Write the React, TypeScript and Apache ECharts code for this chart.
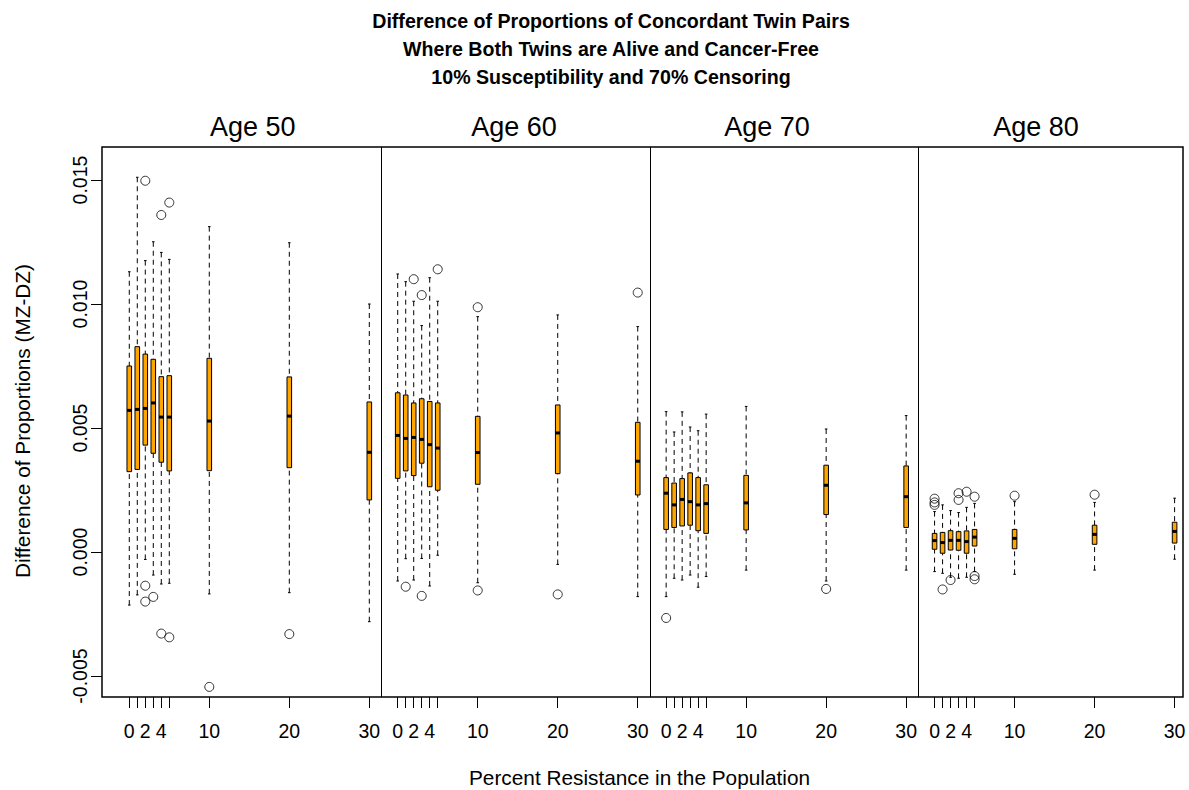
import React, { useEffect, useRef } from "react";
import * as echarts from "echarts";

// ---------- data ----------
const POSITIONS = [0, 1, 2, 3, 4, 5, 10, 20, 30];
const TICK_LABELS = [0, 2, 4, 10, 20, 30];
const AGES = ["Age 50", "Age 60", "Age 70", "Age 80"];
const Y_TICKS = [-0.005, 0, 0.005, 0.01, 0.015];
const TITLE_LINES = [
  "Difference of Proportions of Concordant Twin Pairs",
  "Where Both Twins are Alive and Cancer-Free",
  "10% Susceptibility and 70% Censoring",
];
const X_TITLE = "Percent Resistance in the Population";
const Y_TITLE = "Difference of Proportions (MZ-DZ)";

// [lower whisker, Q1, median, Q3, upper whisker] for each position
const AGE50_STATS = [
  [-0.00214, 0.00324, 0.00571, 0.0075, 0.0113],
  [-0.00173, 0.00333, 0.00575, 0.00828, 0.01511],
  [-0.0003, 0.00431, 0.00579, 0.00798, 0.01175],
  [-0.00093, 0.00398, 0.00601, 0.00777, 0.01251],
  [-0.00129, 0.00362, 0.00544, 0.00707, 0.01208],
  [-0.00126, 0.00327, 0.00544, 0.00711, 0.0118],
  [-0.00169, 0.00328, 0.00528, 0.00781, 0.01312],
  [-0.00164, 0.0034, 0.00548, 0.00706, 0.01247],
  [-0.00281, 0.0021, 0.00402, 0.00605, 0.01],
];
const AGE60_STATS = [
  [-0.00117, 0.00297, 0.0047, 0.00642, 0.01121],
  [-0.00027, 0.00327, 0.00458, 0.00633, 0.0109],
  [-0.00113, 0.00308, 0.00462, 0.00601, 0.01011],
  [-0.00026, 0.00358, 0.00454, 0.00618, 0.00913],
  [-0.00137, 0.00263, 0.00433, 0.00607, 0.01106],
  [-0.00013, 0.00249, 0.00419, 0.00601, 0.01011],
  [-0.00124, 0.00273, 0.00401, 0.00547, 0.00949],
  [-0.0005, 0.00316, 0.0048, 0.00593, 0.00956],
  [-0.0018, 0.0023, 0.00366, 0.00523, 0.00909],
];
const AGE70_STATS = [
  [-0.0018, 0.00091, 0.00237, 0.003, 0.00566],
  [-0.00106, 0.00099, 0.0019, 0.00278, 0.00484],
  [-0.00113, 0.00105, 0.00212, 0.00296, 0.00565],
  [-0.00093, 0.00108, 0.00203, 0.00319, 0.00504],
  [-0.00142, 0.00086, 0.0019, 0.003, 0.00489],
  [-0.00099, 0.00075, 0.00195, 0.00271, 0.00556],
  [-0.00073, 0.00089, 0.00198, 0.00309, 0.00587],
  [-0.00117, 0.00151, 0.00269, 0.0035, 0.00496],
  [-0.00073, 0.00099, 0.00223, 0.00347, 0.0055],
];
const AGE80_STATS = [
  [-0.00079, 0.00011, 0.00046, 0.00075, 0.00163],
  [-0.00086, -0.00005, 0.00038, 0.00079, 0.0019],
  [-0.00102, 0.00008, 0.00047, 0.00086, 0.00167],
  [-0.00106, 0.00007, 0.00047, 0.00082, 0.00159],
  [-0.00102, -0.00005, 0.00042, 0.00085, 0.0018],
  [-0.00079, 0.00024, 0.0006, 0.00091, 0.00196],
  [-0.0009, 0.00013, 0.00055, 0.00091, 0.00203],
  [-0.00073, 0.00031, 0.00071, 0.00108, 0.002],
  [-0.00029, 0.00036, 0.00083, 0.0012, 0.00217],
];

// [position, value]
const AGE50_OUTLIERS = [
  [2, 0.01497], [4, 0.01359], [5, 0.01409], [2, -0.00136], [2, -0.002],
  [3, -0.00181], [4, -0.00329], [5, -0.00344], [10, -0.00544], [20, -0.00331],
];
const AGE60_OUTLIERS = [
  [2, 0.011], [1, -0.0014], [3, 0.01036], [3, -0.00177], [5, 0.0114],
  [10, 0.00987], [10, -0.00155], [20, -0.00171], [30, 0.01046],
];
const AGE70_OUTLIERS = [
  [0, -0.00266], [20, -0.00149],
];
const AGE80_OUTLIERS = [
  [0, 0.00215], [0, 0.002], [0, 0.0019], [1, -0.00151], [2, -0.00113],
  [3, 0.00237], [3, 0.0021], [4, 0.00243], [5, 0.00223], [5, -0.00097],
  [5, -0.0011], [10, 0.00227], [20, 0.00231],
];

// ---------- layout ----------
const PANEL_OFFSET = 33.55;
const SEPARATOR_AT = 31.55;
const X_MIN = -3.41;
const X_MAX = 131.7;
const Y_MIN = -0.005847;
const Y_MAX = 0.016331;
const FONT = "'Liberation Sans', Arial, Helvetica, sans-serif";

const STATS = [AGE50_STATS, AGE60_STATS, AGE70_STATS, AGE80_STATS];
const OUTLIERS = [AGE50_OUTLIERS, AGE60_OUTLIERS, AGE70_OUTLIERS, AGE80_OUTLIERS];

const boxData = STATS.flatMap((stats, p) =>
  stats.map((s, i) => [p * PANEL_OFFSET + POSITIONS[i], ...s])
);
const outlierData = OUTLIERS.flatMap((list, p) =>
  list.map(([pos, v]) => [p * PANEL_OFFSET + pos, v])
);
const xTickValues = AGES.flatMap((_, p) => POSITIONS.map((t) => p * PANEL_OFFSET + t));
const xLabelValues = AGES.flatMap((_, p) => TICK_LABELS.map((t) => p * PANEL_OFFSET + t));
const separators = AGES.slice(0, -1).map((_, p) => ({ xAxis: p * PANEL_OFFSET + SEPARATOR_AT }));

const STRIP_X = [252.7, 514, 767, 1036];
const TITLE_Y = [20.5, 48.5, 76.5];

function buildOption(): any {
  const graphics: any[] = [];
  TITLE_LINES.forEach((t, i) =>
    graphics.push({
      type: "text",
      x: 611,
      y: TITLE_Y[i],
      style: {
        text: t,
        fontFamily: FONT,
        fontWeight: "bold",
        fontSize: 19.6,
        fill: "#000",
        align: "center",
        verticalAlign: "middle",
      },
    })
  );
  AGES.forEach((a, i) =>
    graphics.push({
      type: "text",
      x: STRIP_X[i],
      y: 127,
      style: { text: a, fontFamily: FONT, fontSize: 27, fill: "#000", align: "center", verticalAlign: "middle" },
    })
  );
  graphics.push({
    type: "text",
    x: 639.5,
    y: 777,
    style: { text: X_TITLE, fontFamily: FONT, fontSize: 20.8, fill: "#000", align: "center", verticalAlign: "middle" },
  });
  graphics.push({
    type: "text",
    x: 22,
    y: 421,
    rotation: Math.PI / 2,
    style: { text: Y_TITLE, fontFamily: FONT, fontSize: 20.8, fill: "#000", align: "center", verticalAlign: "middle" },
  });

  return {
    animation: false,
    backgroundColor: "#fff",
    grid: {
      left: 102,
      top: 147,
      width: 1081,
      height: 550,
      show: true,
      borderColor: "#000",
      borderWidth: 1.5,
      backgroundColor: "transparent",
    },
    xAxis: {
      type: "value",
      min: X_MIN,
      max: X_MAX,
      splitLine: { show: false },
      axisLine: { show: false, onZero: false },
      axisTick: {
        show: true,
        length: 11,
        customValues: xTickValues,
        lineStyle: { color: "#000", width: 1 },
      },
      axisLabel: {
        show: true,
        customValues: xLabelValues,
        margin: 24,
        fontSize: 19.5,
        fontFamily: FONT,
        color: "#000",
        formatter: (v: number) => {
          const p = Math.floor((v + 2) / PANEL_OFFSET);
          return String(Math.round(v - p * PANEL_OFFSET));
        },
      },
    },
    yAxis: {
      type: "value",
      min: Y_MIN,
      max: Y_MAX,
      splitLine: { show: false },
      axisLine: { show: false, onZero: false },
      axisTick: {
        show: true,
        length: 11,
        customValues: Y_TICKS,
        lineStyle: { color: "#000", width: 1 },
      },
      axisLabel: {
        show: true,
        customValues: Y_TICKS,
        rotate: 90,
        margin: 12,
        fontSize: 19.5,
        fontFamily: FONT,
        color: "#000",
        formatter: (v: number) => v.toFixed(3),
      },
    },
    graphic: graphics,
    series: [
      {
        type: "custom",
        data: boxData,
        encode: { x: 0, y: [1, 2, 3, 4, 5] },
        clip: true,
        renderItem: (_params: any, api: any) => {
          const x = api.value(0);
          const pLo = api.coord([x, api.value(1)]);
          const pQ1 = api.coord([x, api.value(2)]);
          const pMed = api.coord([x, api.value(3)]);
          const pQ3 = api.coord([x, api.value(4)]);
          const pHi = api.coord([x, api.value(5)]);
          const cx = pLo[0];
          const hw = 2.3;
          const sw = 1.3;
          const dash = { stroke: "#000", lineWidth: 1, lineDash: [5, 4] };
          return {
            type: "group",
            children: [
              { type: "line", shape: { x1: cx, y1: pHi[1], x2: cx, y2: pQ3[1] }, style: dash },
              { type: "line", shape: { x1: cx, y1: pLo[1], x2: cx, y2: pQ1[1] }, style: dash },
              { type: "line", shape: { x1: cx - sw, y1: pHi[1], x2: cx + sw, y2: pHi[1] }, style: { stroke: "#000", lineWidth: 1 } },
              { type: "line", shape: { x1: cx - sw, y1: pLo[1], x2: cx + sw, y2: pLo[1] }, style: { stroke: "#000", lineWidth: 1 } },
              {
                type: "rect",
                shape: { x: cx - hw, y: pQ3[1], width: 2 * hw, height: pQ1[1] - pQ3[1] },
                style: { fill: "#FFA500", stroke: "#000", lineWidth: 1 },
              },
              { type: "line", shape: { x1: cx - hw, y1: pMed[1], x2: cx + hw, y2: pMed[1] }, style: { stroke: "#000", lineWidth: 3 } },
            ],
          };
        },
      },
      {
        type: "scatter",
        data: outlierData,
        symbol: "circle",
        symbolSize: 9,
        itemStyle: { color: "rgba(255,255,255,0)", borderColor: "#000", borderWidth: 1 },
        markLine: {
          silent: true,
          symbol: ["none", "none"],
          label: { show: false },
          lineStyle: { color: "#000", width: 1, type: "solid" },
          data: separators,
        },
      },
    ],
  };
}

export default function App() {
  const ref = useRef<HTMLDivElement>(null);
  useEffect(() => {
    if (!ref.current) return;
    const chart = echarts.init(ref.current, null, { renderer: "svg" });
    chart.setOption(buildOption());
    return () => chart.dispose();
  }, []);
  return (
    <div
      ref={ref}
      style={{ position: "fixed", left: 0, top: 0, width: 1189, height: 790, background: "#fff" }}
    />
  );
}
